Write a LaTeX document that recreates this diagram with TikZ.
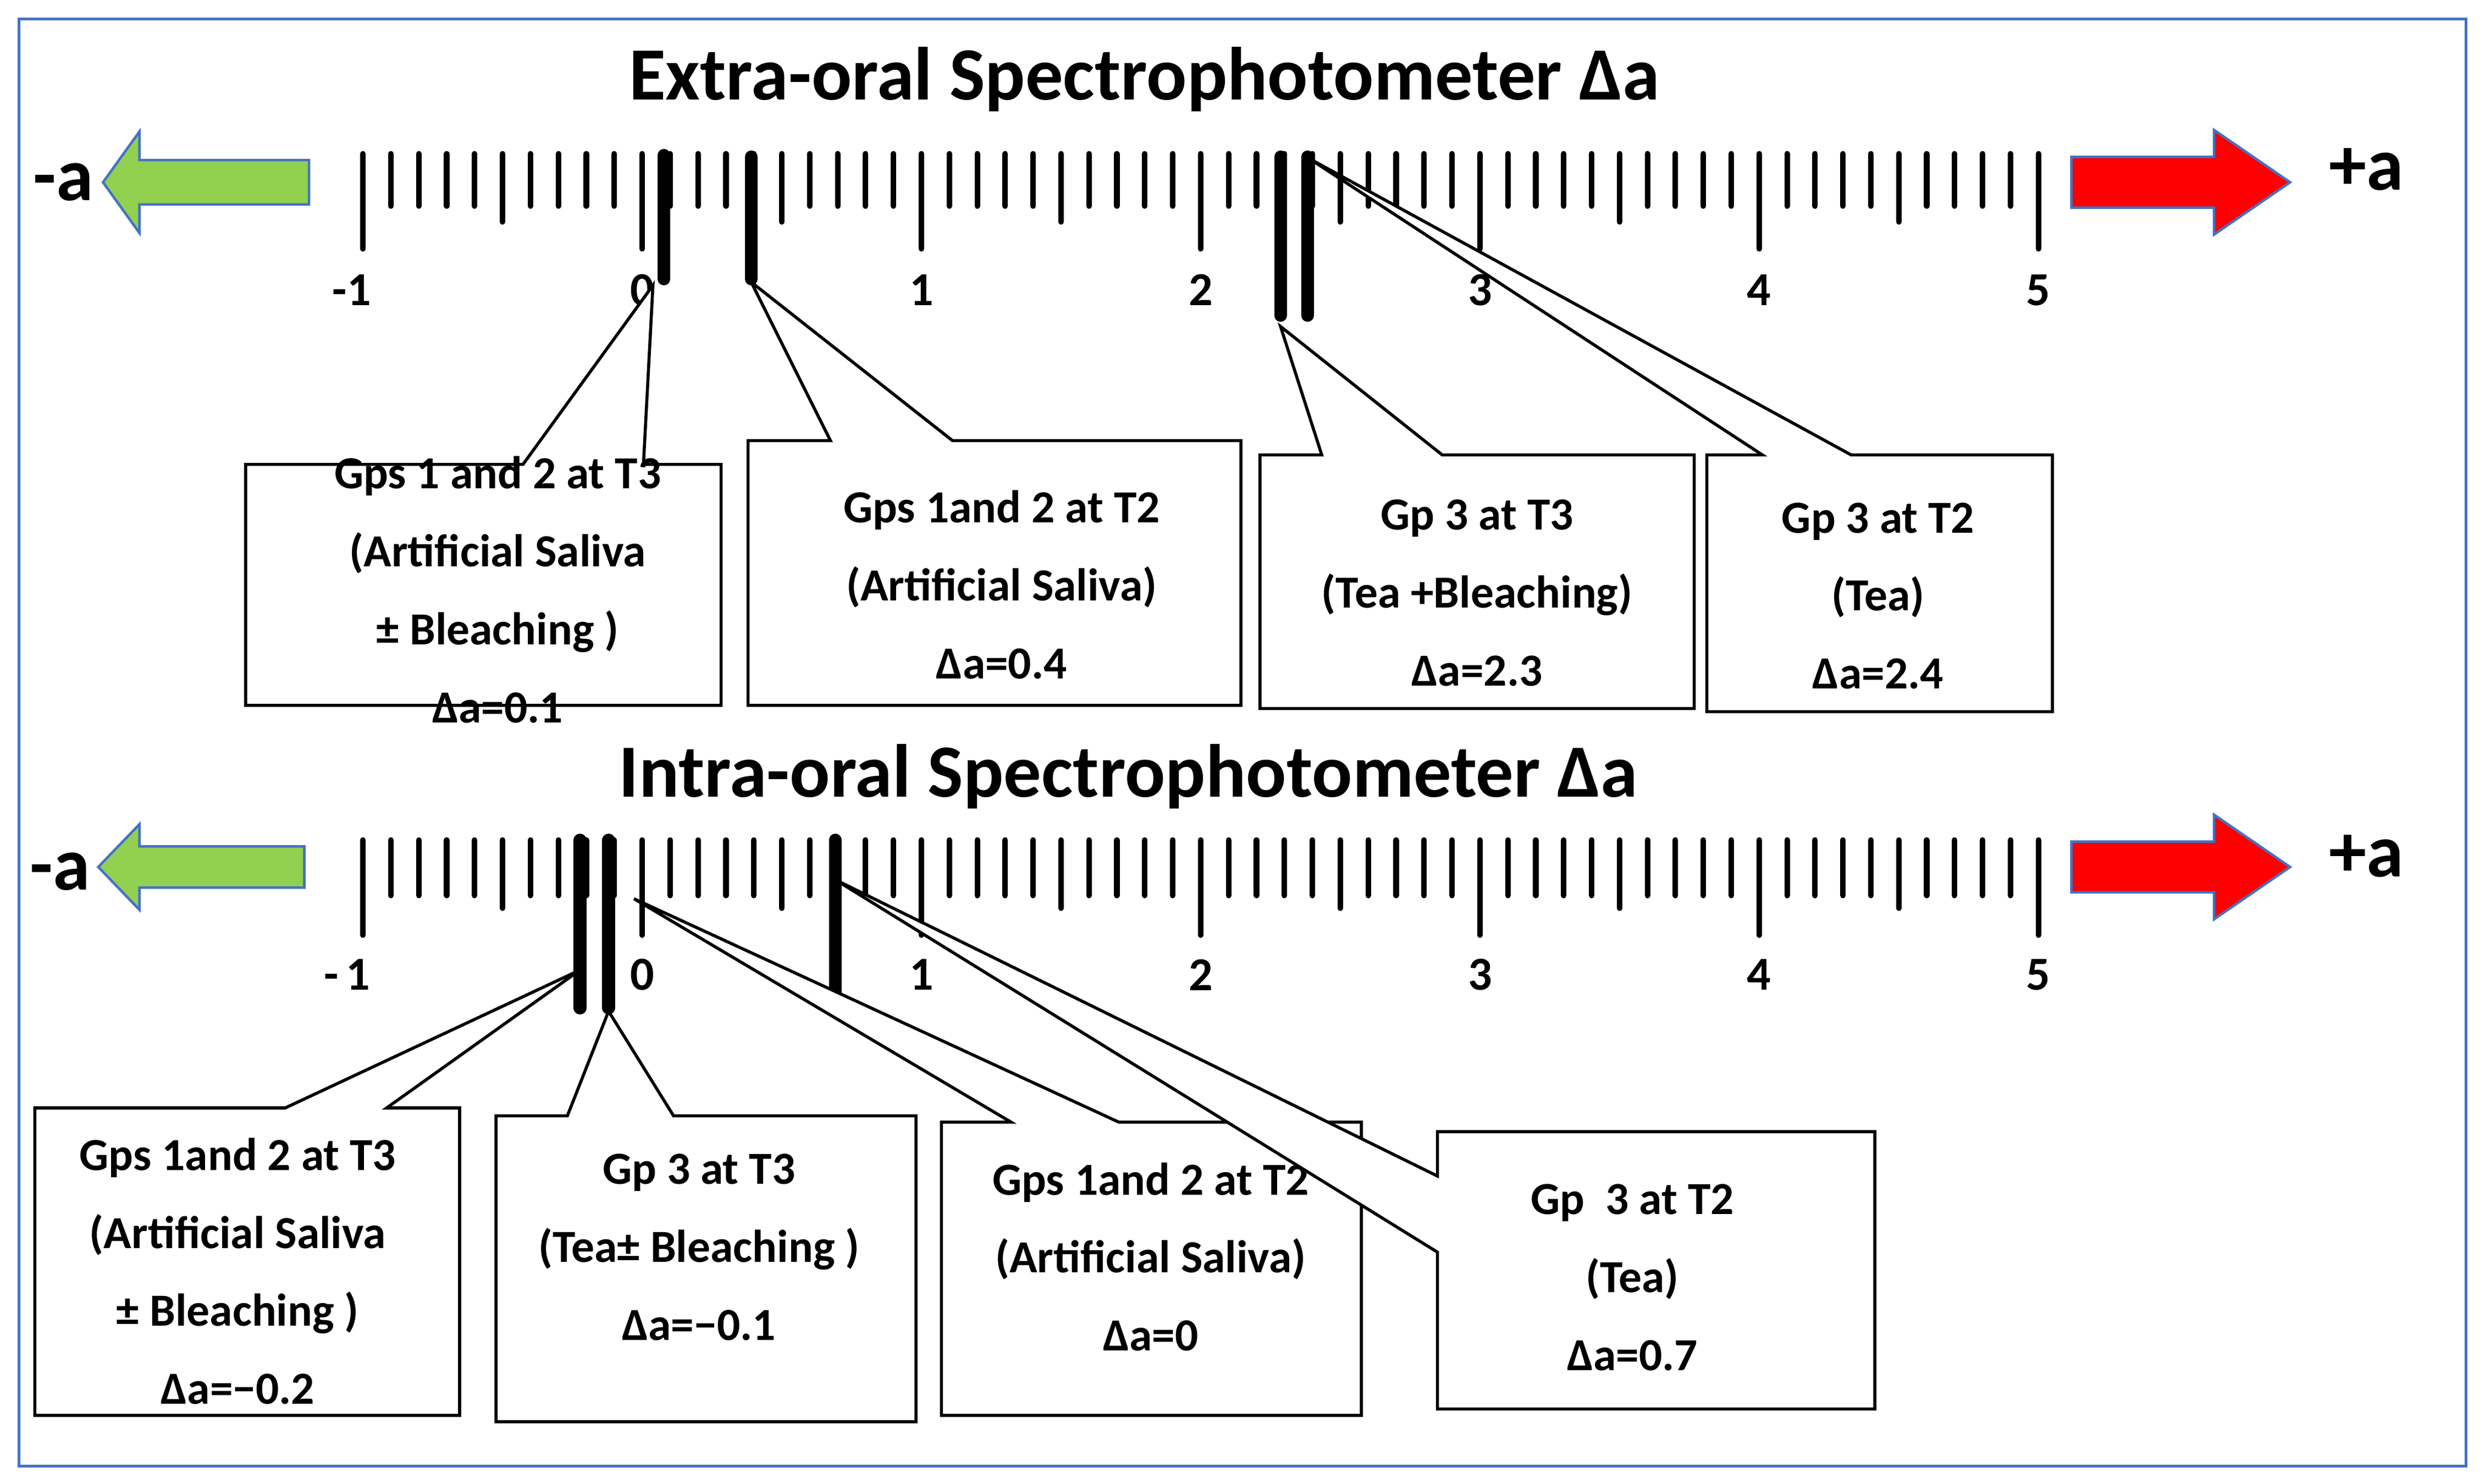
\documentclass[tikz,border=0pt]{standalone}
\usepackage{fontspec}
\setmainfont{Carlito}
\usetikzlibrary{calc}
\definecolor{frameblue}{HTML}{4472C4}
\definecolor{arrowgreen}{HTML}{92D050}
\definecolor{arrowred}{HTML}{FF0000}
\begin{document}
\begin{tikzpicture}[x=0.02cm, y=-0.02cm,
every node/.style = {font=\bfseries, align=center},
title/.style = {font=\bfseries\fontsize{27}{30}\selectfont},
num/.style = {font=\bfseries\fontsize{17}{20}\selectfont},
boxtext/.style = {font=\bfseries\fontsize{16.5}{28}\selectfont},
callout/.style = {draw=black, line width=1.1pt, fill=white, line join=miter},
tick/.style = {line width=2pt, line cap=round},
marker/.style = {line width=4.6pt, line cap=round},
fatarrow/.style = {draw=frameblue, line width=0.9pt}
]
\useasboundingbox (0,0) rectangle (1568,936);
\draw[frameblue, line width=1pt] (12,12) rectangle (1556,925);

% titles
\node[title] (t1) at (722,50) {Extra-oral Spectrophotometer Δa};
\node[title] (t2) at (712,490) {Intra-oral Spectrophotometer Δa};

% rulers
\foreach \r/\top/\ysm/\yhf/\yin/\ylab in {1/97/130/140/157/183, 2/530/565/573/590/615}{
  \foreach \i in {0,...,60}{
    \pgfmathsetmacro{\xx}{229+\i*17.62}
    \pgfmathtruncatemacro{\mt}{mod(\i,10)}
    \pgfmathtruncatemacro{\mf}{mod(\i,5)}
    \ifnum\mt=0 \def\yb{\yin}\else\ifnum\mf=0 \def\yb{\yhf}\else\def\yb{\ysm}\fi\fi
    \draw[tick] (\xx,\top) -- (\xx,\yb);
  }
  \foreach \v [count=\k from 0] in {0,...,5}{
    \node[num] (n\r\k) at (229+176.2*\k+176.2,\ylab) {\v};
  }
}
\node[num] (n1m) at (222,183) {-1};
\node[num] (n2m) at (219,615) {-\,1};

% side arrows
\draw[fatarrow, fill=arrowgreen] (65,115) -- (88,83) -- (88,101) -- (195,101) -- (195,129) -- (88,129) -- (88,147) -- cycle;
\draw[fatarrow, fill=arrowred] (1445,115) -- (1397,82) -- (1397,99) -- (1307,99) -- (1307,131) -- (1397,131) -- (1397,148) -- cycle;
\draw[fatarrow, fill=arrowgreen] (62,547) -- (88,520) -- (88,534) -- (192,534) -- (192,560) -- (88,560) -- (88,574) -- cycle;
\draw[fatarrow, fill=arrowred] (1445,547) -- (1397,514) -- (1397,531) -- (1307,531) -- (1307,563) -- (1397,563) -- (1397,580) -- cycle;
\node[title] (ma1) at (40,115) {-a};
\node[title] (pa1) at (1493,107) {+a};
\node[title] (ma2) at (38,550) {-a};
\node[title] (pa2) at (1493,540) {+a};

% markers
\draw[marker] (419,98) -- (419,176);
\draw[marker] (474,99) -- (474,176);
\draw[marker] (808,99) -- (808,199);
\draw[marker] (825,99) -- (825,199);
\draw[marker] (366,530) -- (366,636);
\draw[marker] (384,530) -- (384,636);
\draw[marker] (527,530) -- (527,636);

% callouts, top
\draw[callout] (155,293) -- (330,293) -- (412,180) -- (406,293) -- (455,293) -- (455,445) -- (155,445) -- cycle;
\node[boxtext] (b1) at (314,372) {Gps 1 and 2 at T3\\(Artificial Saliva\\± Bleaching )\\Δa=0.1};
\draw[callout] (472,278) -- (524,278) -- (474,178) -- (601,278) -- (783,278) -- (783,445) -- (472,445) -- cycle;
\node[boxtext] (b2) at (632,369) {Gps 1and 2 at T2\\(Artificial Saliva)\\Δa=0.4};
\draw[callout] (795,287) -- (834,287) -- (808,206) -- (910,287) -- (1069,287) -- (1069,447) -- (795,447) -- cycle;
\node[boxtext] (b3) at (932,374) {Gp 3 at T3\\(Tea +Bleaching)\\Δa=2.3};
\draw[callout] (1077,287) -- (1112,287) -- (826,100) -- (1168,287) -- (1295,287) -- (1295,449) -- (1077,449) -- cycle;
\node[boxtext] (b4) at (1185,376) {Gp 3 at T2\\(Tea)\\Δa=2.4};

% callouts, bottom
\draw[callout] (22,699) -- (180,699) -- (366,612) -- (244,699) -- (290,699) -- (290,893) -- (22,893) -- cycle;
\node[boxtext] (c1) at (150,802) {Gps 1and 2 at T3\\(Artificial Saliva\\± Bleaching )\\Δa=−0.2};
\draw[callout] (313,704) -- (358,704) -- (384,638) -- (425,704) -- (578,704) -- (578,897) -- (313,897) -- cycle;
\node[boxtext] (c2) at (441,787) {Gp 3 at T3\\(Tea± Bleaching )\\Δa=−0.1};
\draw[callout] (594,708) -- (638,708) -- (400,567) -- (706,708) -- (859,708) -- (859,893) -- (594,893) -- cycle;
\node[boxtext] (c3) at (726,793) {Gps 1and 2 at T2\\(Artificial Saliva)\\Δa=0};
\draw[callout] (907,714) -- (1183,714) -- (1183,889) -- (907,889) -- (907,790) -- (527,555) -- (907,742) -- cycle;
\node[boxtext] (c4) at (1030,806) {Gp \ 3 at T2\\(Tea)\\Δa=0.7};
\end{tikzpicture}
\end{document}
